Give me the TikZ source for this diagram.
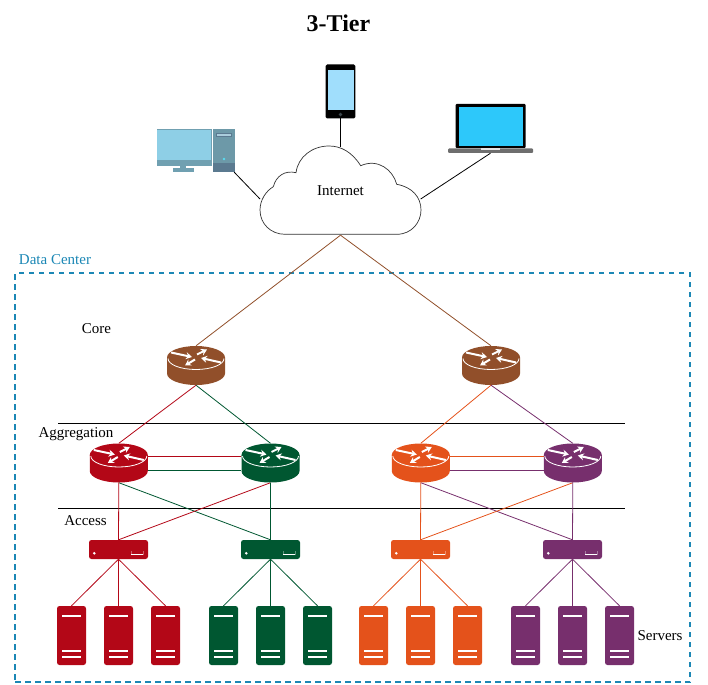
\documentclass[tikz,border=0pt]{standalone}
\usepackage{fontspec}
\setmainfont{Liberation Serif}
\usepackage{xcolor}
\usetikzlibrary{arrows.meta,positioning,calc}

\definecolor{corebrown}{HTML}{914F2A}
\definecolor{devred}{HTML}{B30717}
\definecolor{devgreen}{HTML}{005731}
\definecolor{devorange}{HTML}{E4521B}
\definecolor{devpurple}{HTML}{772F6D}
\definecolor{dcblue}{HTML}{1B87B5}
\definecolor{pcbezel}{RGB}{112,160,177}
\definecolor{pcscreen}{RGB}{142,207,230}
\definecolor{pctower}{RGB}{109,153,168}
\definecolor{pcbase}{RGB}{91,122,144}
\definecolor{pcslot}{RGB}{170,205,220}
\definecolor{pcled}{RGB}{90,220,240}
\definecolor{phonescreen}{RGB}{160,222,252}
\definecolor{phonebutton}{RGB}{60,70,75}
\definecolor{lapscreen}{RGB}{45,200,250}
\definecolor{lapbase}{RGB}{110,110,110}

\begin{document}
\begin{tikzpicture}[
    x=1pt, y=-1pt,
    tierlabel/.style={font=\fontsize{15}{18}\selectfont, inner sep=0pt},
    devbox/.style={rectangle, inner sep=0pt},
    routerbox/.style={devbox, minimum width=58, minimum height=39},
    switchbox/.style={devbox, minimum width=59, minimum height=19},
    serverbox/.style={devbox, minimum width=29, minimum height=59},
    link/.style={line width=0.8pt},
    routerarrow/.style={-{Stealth[length=6pt,width=7pt]}, white, line width=2pt},
    pics/router/.style={code={
        \fill[#1] (-29,-8) -- (-29,8) arc (180:0:29 and 11.5) -- (29,-8) -- cycle;
        \fill[#1] (0,-8) ellipse (29 and 11.5);
        \draw[white, line width=0.8pt] (-28,-7) arc (180:0:28 and 11);
        \draw[routerarrow] (-25,-13) -- (-4,-8.5);
        \draw[routerarrow] (1,-11) -- (11,-16);
        \draw[routerarrow] (25,-3) -- (5,-7.5);
        \draw[routerarrow] (-1,-6) -- (-11,0);
    }},
    pics/switchdev/.style={code={
        \fill[#1, rounded corners=2.5pt] (-29.5,-9.5) rectangle (29.5,9.5);
        \fill[white] (-24.2,3.8) circle (1.4);
        \draw[white, line width=0.9pt] (12.5,5.2) -- (24.5,5.2);
        \draw[white, opacity=0.35, line width=0.5pt] (12.5,5.2) -- (12.5,1) (24.5,5.2) -- (24.5,1);
    }},
    pics/serverdev/.style={code={
        \fill[#1, rounded corners=2.5pt] (-14.5,-29.5) rectangle (14.5,29.5);
        \foreach \ly in {-19.5,15.5,21.5}
            \draw[white, line width=1.7pt] (-9.5,\ly) -- (9.5,\ly);
    }}
]
\useasboundingbox (0,0) rectangle (708,684);

\node[font=\fontsize{24}{28}\bfseries] (title) at (338.5,23) {3-Tier};

% Data center frame
\node[rectangle, draw=dcblue, line width=1.5pt, dash pattern=on 5.5pt off 4.5pt,
      minimum width=675, minimum height=409, inner sep=0pt] (dc) at (352.5,477.5) {};
\node[tierlabel, text=dcblue] (dclabel) at (55,260) {Data Center};

% Tier separators
\coordinate (sepA) at (58,423);
\coordinate (sepB) at (625,423);
\coordinate (sepC) at (58,508);
\coordinate (sepD) at (625,508);
\draw[link, black] (sepA) -- (sepB);
\draw[link, black] (sepC) -- (sepD);

% Tier labels
\node[tierlabel] (corelabel) at (96.5,329) {Core};
\node[tierlabel] (agglabel) at (76,434) {Aggregation};
\node[tierlabel] (acclabel) at (85.5,521) {Access};
\node[tierlabel] (srvlabel) at (660,636) {Servers};

% Cloud
\node[devbox, minimum width=161, minimum height=88, font=\fontsize{15}{18}\selectfont] (internet) at (340.5,191) {Internet};
\coordinate (cloudL) at (260,199);
\coordinate (cloudR) at (420.7,199);
\draw[black!80, line width=0.7pt]
    (285,234.3) -- (396.7,234.3)
    .. controls (412,234.3) and (421,222) .. (421,210)
    .. controls (421,197) and (412,187) .. (396.7,184.3)
    .. controls (393,170) and (378,158) .. (360.7,165.7)
    .. controls (352,152) and (341,146) .. (329,146)
    .. controls (312,146) and (298,157) .. (296,172.7)
    .. controls (285,170) and (276,176) .. (273.3,186.7)
    .. controls (266,191) and (260,200) .. (260,210)
    .. controls (260,224) and (271,234.3) .. (285,234.3);

% Clients
\node[devbox, minimum width=78, minimum height=43] (pc) at (195,150.5) {};
\node[devbox, minimum width=29, minimum height=53] (phone) at (340.5,91.5) {};
\node[devbox, minimum width=85, minimum height=49] (laptop) at (490.5,128.5) {};

% pc
\fill[pcbezel] (156.5,129) rectangle (212,165.7);
\fill[pcscreen] (157,130) rectangle (211,160.5);
\fill[pcbezel] (179.5,165.7) rectangle (186,169);
\fill[pcbezel] (173,168) rectangle (193.5,172.5);
\fill[pctower] (213,129) rectangle (234.5,163);
\fill[pcbase] (213,163) rectangle (234.5,172.5);
\draw[fill=pcslot, draw=pcbase, line width=0.4pt] (216.5,133) rectangle (231.5,136);
\fill[pcled] (224,159) circle (1.3);

% phone
\fill[black, rounded corners=1.5pt] (325.7,64.5) rectangle (355.3,118.5);
\fill[phonescreen] (327.5,70) rectangle (353.5,110.5);
\fill[phonebutton] (340.5,114.5) circle (1.9);

% laptop
\fill[black, rounded corners=1pt] (455.7,104) rectangle (525.7,148);
\fill[lapscreen] (458.5,107) rectangle (523,146);
\fill[lapbase, rounded corners=1pt] (448,148.5) rectangle (533,153);
\fill[white!90!black] (481,148.5) rectangle (500,150.5);

% Client links
\draw[link, black] (pc.south east) -- (cloudL);
\draw[link, black] (phone.south) -- (internet.north);
\draw[link, black] (laptop.south) -- (cloudR);

% Device placeholders
\foreach \nm/\px in {core1/196,core2/491}
    \node[routerbox] (\nm) at (\px,365.5) {};
\foreach \nm/\px in {aggred/118.8,agggreen/270.5,aggorange/420.8,aggpurple/572.8}
    \node[routerbox] (\nm) at (\px,463) {};
\foreach \nm/\px in {swred/118.5,swgreen/270.5,sworange/420.5,swpurple/572.5}
    \node[switchbox] (\nm) at (\px,549.5) {};
\foreach \nm/\px in {r1/71.5,r2/118.5,r3/165.5,g1/223.5,g2/270.5,g3/317.5,
                     o1/373.5,o2/420.5,o3/467.5,p1/525.5,p2/572.5,p3/619.5}
    \node[serverbox] (\nm) at (\px,635.5) {};

% Internet to core
\draw[link, corebrown] (internet.south) -- (core1.north);
\draw[link, corebrown] (internet.south) -- (core2.north);

% Core to aggregation
\draw[link, devred] (core1.south) -- (aggred.north);
\draw[link, devgreen] (core1.south) -- (agggreen.north);
\draw[link, devorange] (core2.south) -- (aggorange.north);
\draw[link, devpurple] (core2.south) -- (aggpurple.north);

% Aggregation peers
\draw[link, devred] ([yshift=7]aggred.east) -- ([yshift=7]agggreen.west);
\draw[link, devgreen] ([yshift=-7]aggred.east) -- ([yshift=-7]agggreen.west);
\draw[link, devorange] ([yshift=7]aggorange.east) -- ([yshift=7]aggpurple.west);
\draw[link, devpurple] ([yshift=-7]aggorange.east) -- ([yshift=-7]aggpurple.west);

% Aggregation to access
\draw[link, devred] (aggred.south) -- (swred.north);
\draw[link, devgreen] (aggred.south) -- (swgreen.north);
\draw[link, devred] (agggreen.south) -- (swred.north);
\draw[link, devgreen] (agggreen.south) -- (swgreen.north);
\draw[link, devorange] (aggorange.south) -- (sworange.north);
\draw[link, devpurple] (aggorange.south) -- (swpurple.north);
\draw[link, devorange] (aggpurple.south) -- (sworange.north);
\draw[link, devpurple] (aggpurple.south) -- (swpurple.north);

% Access to servers
\foreach \sw/\srv/\col in {swred/r1/devred,swred/r2/devred,swred/r3/devred,
                           swgreen/g1/devgreen,swgreen/g2/devgreen,swgreen/g3/devgreen,
                           sworange/o1/devorange,sworange/o2/devorange,sworange/o3/devorange,
                           swpurple/p1/devpurple,swpurple/p2/devpurple,swpurple/p3/devpurple}
    \draw[link, \col] (\sw.south) -- (\srv.north);

% Devices on top
\foreach \nm/\col in {core1/corebrown,core2/corebrown,aggred/devred,agggreen/devgreen,
                      aggorange/devorange,aggpurple/devpurple}
    \pic at (\nm) {router=\col};
\foreach \nm/\col in {swred/devred,swgreen/devgreen,sworange/devorange,swpurple/devpurple}
    \pic at (\nm) {switchdev=\col};
\foreach \nm/\col in {r1/devred,r2/devred,r3/devred,g1/devgreen,g2/devgreen,g3/devgreen,
                      o1/devorange,o2/devorange,o3/devorange,p1/devpurple,p2/devpurple,p3/devpurple}
    \pic at (\nm) {serverdev=\col};

\end{tikzpicture}
\end{document}
